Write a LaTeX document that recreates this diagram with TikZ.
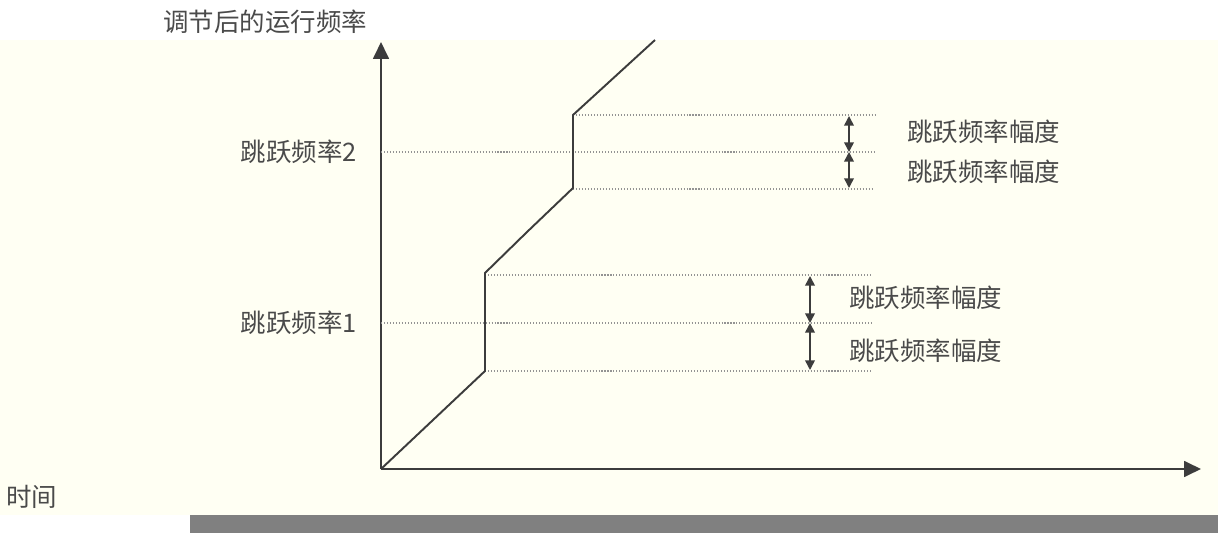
\documentclass[tikz,border=0pt]{standalone}
\usepackage{fontspec}
\setmainfont{Noto Sans CJK SC}
\usetikzlibrary{arrows.meta, positioning}
\definecolor{paper}{HTML}{FFFFF3}
\definecolor{ink}{HTML}{3C3C3C}
\definecolor{txt}{HTML}{4A4A4A}
\definecolor{bar}{HTML}{808080}

\begin{document}
\begin{tikzpicture}[x=0.02cm, y=-0.02cm,
  axis/.style={draw=ink, line width=1.1pt, -{Triangle[length=9.6pt, width=9pt]}},
  curve/.style={draw=ink, line width=1.1pt, line join=miter},
  guide/.style={draw=gray!85, line width=0.6pt, dash pattern=on 0.6pt off 1.1pt},
  span/.style={draw=ink, line width=0.9pt, {Triangle[length=5.5pt, width=5.5pt]}-{Triangle[length=5.5pt, width=5.5pt]}},
  lbl/.style={font=\fontsize{14.5}{17}\selectfont, text=txt, inner sep=0pt}
]
\useasboundingbox (0,0) rectangle (1224,533);
% background and bottom bar
\fill[paper] (0,40) rectangle (1218,515);
\fill[bar] (190,515) rectangle (1218,533);

% axes
\coordinate (o) at (381,469);
\coordinate (ytop) at (381,42);
\coordinate (xend) at (1201,469);
\draw[axis] (o) -- (ytop);
\draw[axis] (o) -- (xend);

% guide lines
\coordinate (f1hi) at (485,275);
\coordinate (f1lo) at (485,371);
\coordinate (f2hi) at (573,115);
\coordinate (f2lo) at (573,189);
\draw[guide] (f2hi) -- (877,115);
\draw[guide] (381,152) -- (874,152);
\draw[guide] (f2lo) -- (874,189);
\draw[guide] (f1hi) -- (873,275);
\draw[guide] (381,323) -- (873,323);
\draw[guide] (f1lo) -- (873,371);

% frequency curve
\draw[curve] (o) -- (f1lo) -- (485,273) -- (527,232) -- (573,188) -- (f2hi) -- (655,40);

% amplitude arrows
\coordinate (a2t) at (849,116);
\coordinate (a2m) at (849,152);
\coordinate (a2b) at (849,188);
\coordinate (a1t) at (810,276);
\coordinate (a1m) at (810,323);
\coordinate (a1b) at (810,370);
\draw[span] (a2t) -- (a2m);
\draw[span] (a2m) -- (a2b);
\draw[span] (a1t) -- (a1m);
\draw[span] (a1m) -- (a1b);

% labels
\node[lbl, anchor=west] (title) at (163,22) {调节后的运行频率};
\node[lbl, anchor=east] (jump2) at (357,152) {跳跃频率2};
\node[lbl, anchor=east] (jump1) at (357,323) {跳跃频率1};
\node[lbl, anchor=west] (amp2a) at (907,132) {跳跃频率幅度};
\node[lbl, anchor=west] (amp2b) at (907,172) {跳跃频率幅度};
\node[lbl, anchor=west] (amp1a) at (849,298) {跳跃频率幅度};
\node[lbl, anchor=west] (amp1b) at (849,351) {跳跃频率幅度};
\node[lbl, anchor=west] (time) at (6,497) {时间};
\end{tikzpicture}
\end{document}
